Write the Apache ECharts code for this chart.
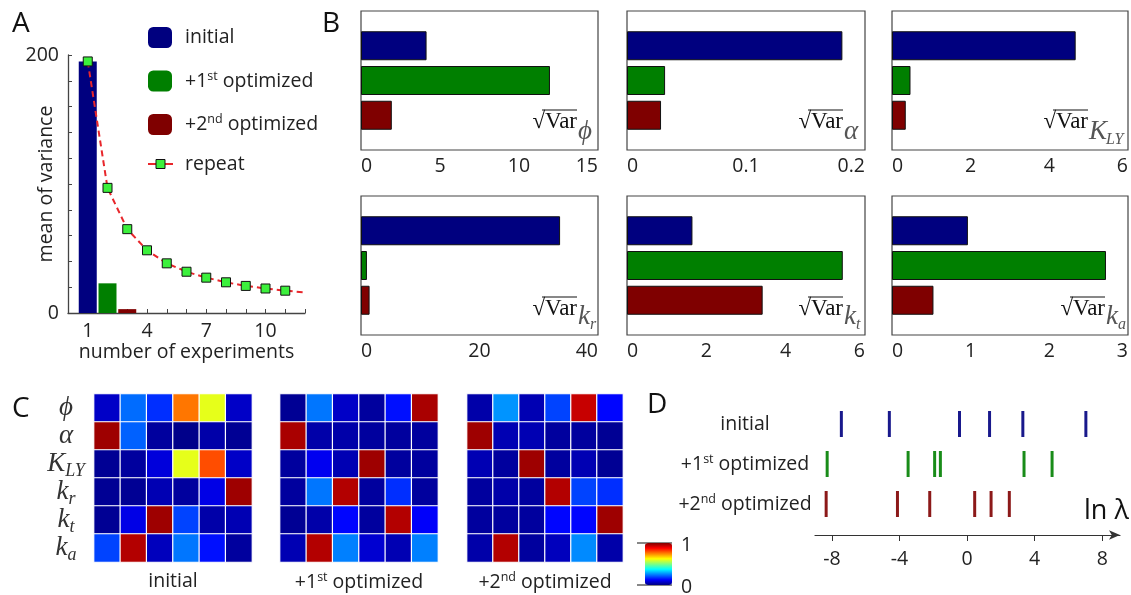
<!DOCTYPE html>
<html><head><meta charset="utf-8">
<script src="https://cdn.jsdelivr.net/npm/echarts@6/dist/echarts.min.js"></script>
<style>html,body{margin:0;padding:0;background:#fff}#c{width:1131px;height:595px}</style>
</head><body><div id="c"></div>
<script>
// ---------------- DATA ----------------
// Panel A
const seriesNames = ['initial', '+1st optimized', '+2nd optimized', 'repeat'];
const aBarX = [1, 2, 3];
const aBarValues = [195, 23, 3];
const aRepeatX = [1, 2, 3, 4, 5, 6, 7, 8, 9, 10, 11];
const aRepeatValues = [195, 97, 65, 48.6, 38.5, 32, 27.4, 23.8, 21, 19, 17.3];
const aRepeatTail = [12, 16];          // dashed line continues past the last marker
const aXTickLabels = [1, 4, 7, 10];
const aYTickLabels = [0, 200];

// Panel B
const bParams = ['ϕ', 'α', 'K_LY', 'k_r', 'k_t', 'k_a'];
const bInitial = [4.15, 0.181, 4.67, 33.6, 1.65, 0.965];
const bFirst   = [11.96, 0.032, 0.47, 1.0, 5.44, 2.72];
const bSecond  = [1.95, 0.0286, 0.35, 1.45, 3.42, 0.527];
const bAxisMax = [15, 0.2, 6, 40, 6, 3];
const bAxisInterval = [5, 0.1, 2, 20, 2, 1];

// Panel C
const cRowLabels = ['ϕ', 'α', 'K_LY', 'k_r', 'k_t', 'k_a'];
const cTitles = ['initial', '+1st optimized', '+2nd optimized'];
const cInitial = [
  [0.07, 0.23, 0.17, 0.76, 0.60, 0.07],
  [0.97, 0.22, 0.03, 0.01, 0.04, 0.02],
  [0.02, 0.03, 0.09, 0.60, 0.80, 0.07],
  [0.02, 0.02, 0.05, 0.03, 0.10, 0.97],
  [0.02, 0.10, 0.97, 0.19, 0.04, 0.05],
  [0.19, 0.95, 0.06, 0.24, 0.14, 0.03]
];
const cFirst = [
  [0.02, 0.24, 0.07, 0.03, 0.14, 0.96],
  [0.96, 0.04, 0.04, 0.03, 0.03, 0.03],
  [0.03, 0.11, 0.05, 0.97, 0.03, 0.03],
  [0.03, 0.24, 0.95, 0.03, 0.17, 0.03],
  [0.02, 0.04, 0.13, 0.03, 0.95, 0.12],
  [0.05, 0.95, 0.25, 0.08, 0.05, 0.25]
];
const cSecond = [
  [0.04, 0.27, 0.05, 0.19, 0.93, 0.13],
  [0.97, 0.05, 0.05, 0.03, 0.03, 0.02],
  [0.05, 0.03, 0.97, 0.03, 0.05, 0.02],
  [0.03, 0.04, 0.03, 0.95, 0.19, 0.17],
  [0.03, 0.03, 0.03, 0.13, 0.13, 0.97],
  [0.04, 0.95, 0.03, 0.06, 0.26, 0.04]
];

// Panel D
const dRowLabels = ['initial', '+1st optimized', '+2nd optimized'];
const dInitial = [-7.44, -4.6, -0.45, 1.33, 3.3, 7.03];
const dFirst   = [-8.28, -3.49, -1.92, -1.58, 3.37, 5.03];
const dSecond  = [-8.34, -4.12, -2.21, 0.45, 1.42, 2.5];
const dTicks = [-8, -4, 0, 4, 8];

// ---------------- STYLE / LAYOUT ----------------
const NAVY = '#00007f', GREEN = '#007f00', DRED = '#7f0000';
const barColors = [NAVY, GREEN, DRED];
const FONT = '"Open Sans", "Noto Sans", sans-serif';
const SERIF = '"Liberation Serif", "DejaVu Serif", serif';
const TXT = '#222';
const FS = 19.5;
const jet = ['#000080', '#0000ff', '#0080ff', '#00ffff', '#80ff80', '#ffff00', '#ff8000', '#ff0000', '#800000'];

const supFmt = s => s.replace(/(\d)(st|nd)/, '$1{sup|$2}');
const supRich = { sup: { fontSize: 12.5, fontFamily: FONT, color: TXT, padding: [0, 0, 10, 0] } };

const grids = [], xAxes = [], yAxes = [], series = [], graphics = [];

// ---- Panel A ----
grids.push({ left: 68, top: 55, width: 237, height: 258 });
xAxes.push({
  gridIndex: 0, type: 'value', min: 0, max: 12, interval: 1,
  axisLine: { lineStyle: { color: '#444', width: 1.3 } },
  axisTick: { inside: true, length: 4, lineStyle: { color: '#444' } },
  splitLine: { show: false },
  axisLabel: { color: TXT, fontSize: FS, fontFamily: FONT, margin: 8,
    formatter: v => aXTickLabels.includes(v) ? String(v) : '' },
  name: 'number of experiments', nameLocation: 'middle', nameGap: 29, nameMoveOverlap: false,
  nameTextStyle: { color: TXT, fontSize: FS, fontFamily: FONT }
});
yAxes.push({
  gridIndex: 0, type: 'value', min: 0, max: 200, interval: 20,
  axisLine: { show: true, lineStyle: { color: '#444', width: 1.3 } },
  axisTick: { show: true, inside: true, length: 4, lineStyle: { color: '#444' } },
  splitLine: { show: false },
  axisLabel: { color: TXT, fontSize: FS, fontFamily: FONT, margin: 9,
    formatter: v => aYTickLabels.includes(v) ? String(v) : '' },
  name: 'mean of variance', nameLocation: 'middle', nameGap: 12, nameMoveOverlap: false,
  nameTextStyle: { color: TXT, fontSize: FS, fontFamily: FONT }
});
aBarX.forEach((x, i) => {
  series.push({
    name: seriesNames[i], type: 'bar', xAxisIndex: 0, yAxisIndex: 0,
    data: [[x, aBarValues[i]]], barWidth: 18, barGap: '-100%',
    itemStyle: { color: barColors[i] }
  });
});
const repeatData = aRepeatX.map((x, i) => [x, aRepeatValues[i]]);
repeatData.push({ value: aRepeatTail, symbol: 'none' });
const REPEAT_LINE = { color: '#e8262b', width: 2, type: [6, 4] };
const REPEAT_MARK = { color: '#3cf03c', borderColor: '#111', borderWidth: 1 };
series.push({
  name: seriesNames[3], type: 'line', xAxisIndex: 0, yAxisIndex: 0, z: 5,
  data: repeatData, symbol: 'rect', symbolSize: 9,
  lineStyle: REPEAT_LINE, itemStyle: REPEAT_MARK
});
// manual legend entry for the line series (line + small square)
graphics.push({ type: 'line', shape: { x1: 148, y1: 164, x2: 173, y2: 164 }, style: { stroke: '#e8262b', lineWidth: 2 } });
graphics.push({ type: 'rect', shape: { x: 156, y: 159.5, width: 9, height: 9 }, style: { fill: '#3cf03c', stroke: '#111', lineWidth: 1 } });
graphics.push({ type: 'text', x: 185, y: 164,
  style: { text: seriesNames[3], font: FS + 'px ' + FONT, fill: TXT, align: 'left', verticalAlign: 'middle' } });

// ---- Panel B ----
const bGrids = [
  { left: 361, top: 11, width: 237, height: 139, d: 21 },
  { left: 627, top: 11, width: 238, height: 139, d: 22 },
  { left: 892, top: 11, width: 238, height: 139, d: 42 },
  { left: 361, top: 196, width: 237, height: 139, d: 21 },
  { left: 627, top: 196, width: 238, height: 139, d: 22 },
  { left: 892, top: 196, width: 238, height: 139, d: 25 }
];
bGrids.forEach((g, i) => {
  const gi = grids.length;
  grids.push({ left: g.left, top: g.top, width: g.width, height: g.height,
    show: true, borderColor: '#444', borderWidth: 1.2, backgroundColor: 'transparent' });
  xAxes.push({
    gridIndex: gi, type: 'value', min: 0, max: bAxisMax[i], interval: bAxisInterval[i],
    axisLine: { lineStyle: { color: '#444', width: 1.2 } },
    axisTick: { inside: true, length: 4, lineStyle: { color: '#444' } },
    splitLine: { show: false },
    axisLabel: { color: TXT, fontSize: FS, fontFamily: FONT, margin: 6,
      alignMinLabel: 'left', alignMaxLabel: 'right' }
  });
  yAxes.push({
    gridIndex: gi, type: 'category', inverse: true, boundaryGap: false,
    data: ['', 'initial', '+1st', '+2nd', ''],
    axisLine: { show: false }, axisTick: { show: false }, axisLabel: { show: false },
    splitLine: { show: false }
  });
  const vals = [bInitial[i], bFirst[i], bSecond[i]];
  series.push({
    type: 'bar', xAxisIndex: gi, yAxisIndex: gi, barWidth: 29,
    data: ['-'].concat(vals.map((v, k) => ({ value: v, itemStyle: { color: barColors[k] } })), ['-']),
    itemStyle: { borderColor: '#111', borderWidth: 1 }, silent: true
  });
  // sqrt(Var)_param label
  const R = g.left + g.width, B = g.top + g.height;
  const vr = R - g.d;
  const base = B - (i < 3 ? 22 : 20);
  graphics.push({ type: 'text', x: vr, y: base + 5,
    style: { text: '√Var', font: '23px ' + SERIF, fill: '#111', align: 'right', verticalAlign: 'bottom' } });
  graphics.push({ type: 'line', shape: { x1: vr - 35, y1: base - 18, x2: vr, y2: base - 18 },
    style: { stroke: '#111', lineWidth: 1 } });
  const [m, s] = bParams[i].split('_');
  const mW = m === 'K' ? 17 : (m === 'k' ? 12 : 0);
  graphics.push({ type: 'text', x: vr + 1, y: B - 5,
    style: { text: m, font: 'italic 27px ' + SERIF, fill: '#555', align: 'left', verticalAlign: 'bottom' } });
  if (s) graphics.push({ type: 'text', x: vr + 1 + mW, y: B - 2,
    style: { text: s, font: 'italic 16px ' + SERIF, fill: '#555', align: 'left', verticalAlign: 'bottom' } });
});

// ---- Panel C ----
const cGridBoxes = [
  { left: 94, top: 394, width: 158, height: 168 },
  { left: 280, top: 394, width: 158, height: 168 },
  { left: 467, top: 394, width: 156, height: 168 }
];
const cMats = [cInitial, cFirst, cSecond];
const heatIdx = [];
cGridBoxes.forEach((g, k) => {
  const gi = grids.length;
  grids.push(g);
  xAxes.push({
    gridIndex: gi, type: 'category', data: [0, 1, 2, 3, 4, 5],
    axisLine: { show: false }, axisTick: { show: false }, axisLabel: { show: false },
    splitLine: { show: false },
    name: supFmt(cTitles[k]), nameLocation: 'middle', nameGap: 9, nameMoveOverlap: false,
    nameTextStyle: { color: TXT, fontSize: FS, fontFamily: FONT, verticalAlign: 'top', rich: supRich }
  });
  yAxes.push({
    gridIndex: gi, type: 'category', inverse: true, data: cRowLabels,
    axisLine: { show: false }, axisTick: { show: false }, splitLine: { show: false },
    axisLabel: {
      show: k === 0, margin: 28, align: 'center', interval: 0, hideOverlap: false,
      formatter: v => { const [m, s] = v.split('_'); return s ? `{i|${m}}{s|${s}}` : `{i|${m}}`; },
      rich: {
        i: { fontFamily: SERIF, fontStyle: 'italic', fontSize: 27, color: '#333' },
        s: { fontFamily: SERIF, fontStyle: 'italic', fontSize: 18, color: '#333', padding: [14, 0, 0, 0] }
      }
    }
  });
  const data = [];
  cMats[k].forEach((row, r) => row.forEach((v, c) => data.push([c, r, v])));
  heatIdx.push(series.length);
  series.push({
    type: 'heatmap', xAxisIndex: gi, yAxisIndex: gi, data,
    itemStyle: { borderColor: '#fff', borderWidth: 1.2 }, emphasis: { disabled: true }, silent: true
  });
});

// ---- Panel D ----
const dGi = grids.length;
grids.push({ left: 815, top: 404, width: 305, height: 120 });
xAxes.push({
  gridIndex: dGi, type: 'value', min: -9, max: 9.05, offset: 11,
  axisLine: { show: true, symbol: ['none', 'arrow'], symbolSize: [7, 11], lineStyle: { color: '#333', width: 1.2 } },
  axisTick: { show: true, customValues: dTicks, length: 6, lineStyle: { color: '#333' } },
  splitLine: { show: false },
  axisLabel: { customValues: dTicks, color: TXT, fontSize: FS, fontFamily: FONT, margin: 14 }
});
yAxes.push({
  gridIndex: dGi, type: 'category', inverse: true, data: dRowLabels,
  axisLine: { show: false }, axisTick: { show: false }, splitLine: { show: false },
  axisLabel: { align: 'center', margin: 70, color: TXT, fontSize: FS, fontFamily: FONT, interval: 0,
    formatter: v => supFmt(v), rich: supRich }
});
[dInitial, dFirst, dSecond].forEach((arr, r) => {
  series.push({
    type: 'scatter', xAxisIndex: dGi, yAxisIndex: dGi, symbol: 'rect', symbolSize: [3, 26],
    data: arr.map(v => [v, r]), itemStyle: { color: barColors[r], opacity: 0.9 }, silent: true
  });
});

// ---- free text / decorations ----
const letter = (t, x, y) => graphics.push({ type: 'text', x, y,
  style: { text: t, font: '28px ' + FONT, fill: '#111', align: 'left', verticalAlign: 'top' } });
letter('A', 12, 10); letter('B', 322, 10); letter('C', 12, 395); letter('D', 647, 391);
graphics.push({ type: 'text', x: 1084, y: 511,
  style: { text: 'ln λ', font: '27px ' + FONT, fill: '#111', align: 'left', verticalAlign: 'middle' } });
// colour bar end ticks and labels
graphics.push({ type: 'line', shape: { x1: 637, y1: 543, x2: 672, y2: 543 }, style: { stroke: '#111', lineWidth: 1.2 } });
graphics.push({ type: 'line', shape: { x1: 637, y1: 585, x2: 672, y2: 585 }, style: { stroke: '#111', lineWidth: 1.2 } });
graphics.push({ type: 'text', x: 681, y: 545,
  style: { text: '1', font: FS + 'px ' + FONT, fill: TXT, align: 'left', verticalAlign: 'middle' } });
graphics.push({ type: 'text', x: 681, y: 587,
  style: { text: '0', font: FS + 'px ' + FONT, fill: TXT, align: 'left', verticalAlign: 'middle' } });

const chart = echarts.init(document.getElementById('c'), null, { renderer: 'canvas' });
chart.setOption({
  animation: false,
  backgroundColor: '#fff',
  grid: grids, xAxis: xAxes, yAxis: yAxes, series,
  legend: {
    data: [{ name: seriesNames[0], icon: 'roundRect' }, { name: seriesNames[1], icon: 'roundRect' },
           { name: seriesNames[2], icon: 'roundRect' }],
    orient: 'vertical', left: 148, top: 27, padding: 0,
    itemWidth: 24, itemHeight: 21, itemGap: 21.5, selectedMode: false,
    formatter: n => supFmt(n),
    textStyle: { color: TXT, fontSize: FS, fontFamily: FONT, padding: [0, 0, 0, 8], rich: supRich }
  },
  visualMap: {
    type: 'continuous', min: 0, max: 1, seriesIndex: heatIdx, calculable: false,
    inRange: { color: jet }, left: 645, top: 543, itemWidth: 27, itemHeight: 42, padding: 0,
    text: null, showLabel: false, hoverLink: false
  },
  graphic: graphics
});
</script></body></html>
